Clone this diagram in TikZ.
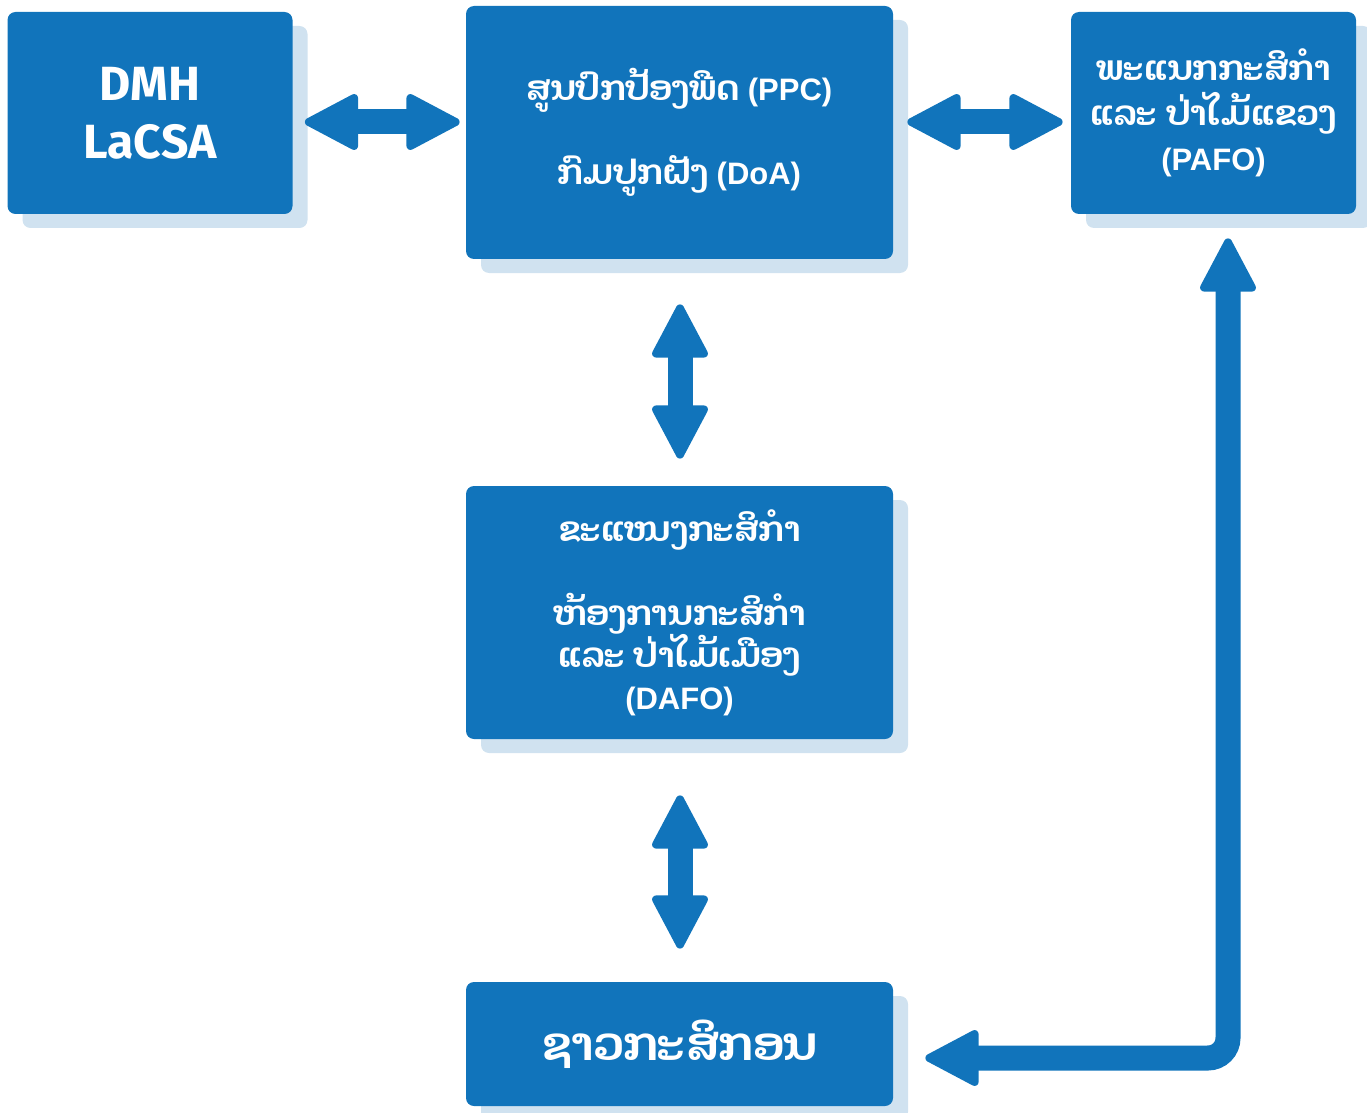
\documentclass[tikz,border=0pt]{standalone}
\usepackage{fontspec}
\setmainfont{Liberation Sans}
\newfontfamily\laofont[Script=Lao, Scale=1.11]{Dhyana}
\newfontfamily\dmhfont{Fira Sans}
\usepackage{tikz}
\usetikzlibrary{arrows.meta, shadows}
\definecolor{boxblue}{RGB}{17,116,187}
\definecolor{shadeblue}{RGB}{208,226,240}
\setlength{\lineskiplimit}{-30pt}
\tikzset{
    orgbox/.style={rectangle, rounded corners=4pt, fill=boxblue, text=white, align=center, inner sep=0pt, font=\bfseries\fontsize{15.5}{21}\selectfont, drop shadow={shadow xshift=7.5pt, shadow yshift=-7pt, fill=shadeblue, opacity=1}},
    widebox/.style={orgbox, minimum width=213.5pt, minimum height=126.5pt},
    sidebox/.style={orgbox, minimum width=142.5pt, minimum height=101pt},
    biarrow/.style={draw=boxblue, line width=12.5pt, {Triangle[length=29pt, width=29.5pt, line width=4pt, round]}-{Triangle[length=29pt, width=29.5pt, line width=4pt, round]}}
}
\begin{document}
\begin{tikzpicture}[x=0.5pt, y=-0.5pt]
    \useasboundingbox (0,0) rectangle (1367,1113);

    % Top row
    \node (dmh) [sidebox, font=\dmhfont\bfseries\fontsize{24}{29}\selectfont] at (150,113) {DMH\\LaCSA};
    \node (ppc) [widebox] at (679.5,132.5) {{\laofont ສູນປົກປ້ອງພືດ} (PPC)\\[21pt]{\laofont ກົມປູກຝັງ} (DoA)};
    \node (pafo) [sidebox, font=\bfseries\fontsize{15.5}{22.5}\selectfont] at (1213.5,113) {{\laofont ພະແນກກະສິກຳ}\\{\laofont ແລະ ປ່າໄມ້ແຂວງ}\\(PAFO)};

    % District
    \node (dafo) [widebox] at (679.5,612.5) {{\laofont ຂະແໜງກະສິກຳ}\\[21pt]{\laofont ຫ້ອງການກະສິກຳ}\\{\laofont ແລະ ປ່າໄມ້ເມືອງ}\\(DAFO)};

    % Farmers
    \node (farm) [widebox, minimum height=62pt, font=\bfseries\fontsize{21}{26}\selectfont] at (679.5,1044) {\laofont ຊາວກະສິກອນ};

    % Links
    \draw [biarrow] ([shift={(12,9)}]dmh.east) -- ([shift={(-6,-10.5)}]ppc.west);
    \draw [biarrow] ([shift={(14,-10.5)}]ppc.east) -- ([shift={(-8,9)}]pafo.west);
    \draw [biarrow] ([shift={(0.5,45)}]ppc.south) -- ([shift={(0.5,-27)}]dafo.north);
    \draw [biarrow] ([shift={(0.5,56)}]dafo.south) -- ([shift={(0.5,-33)}]farm.north);
    \draw [biarrow, rounded corners=10pt] ([shift={(32,14)}]farm.east) -| ([shift={(14.5,24)}]pafo.south);
\end{tikzpicture}
\end{document}
